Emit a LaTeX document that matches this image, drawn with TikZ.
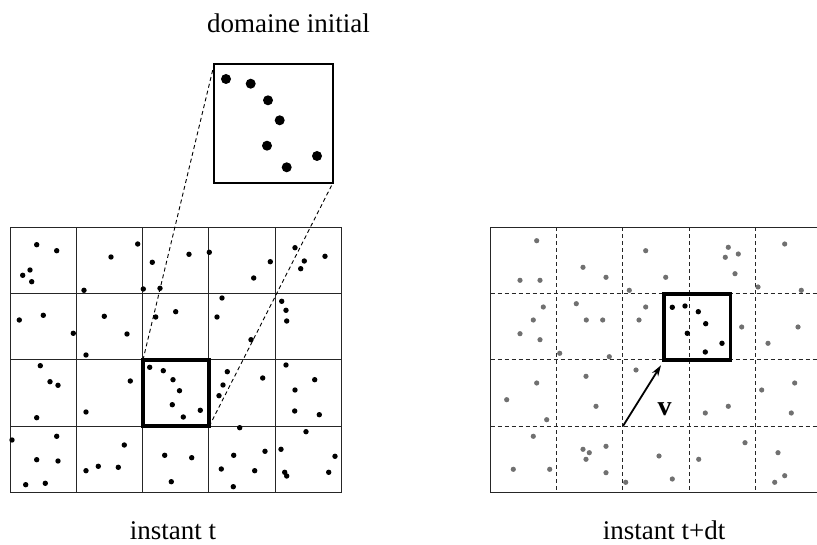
\documentclass[tikz,border=0pt]{standalone}
\usepackage{fontspec}
\setmainfont{Liberation Serif}
\usetikzlibrary{arrows.meta}
\definecolor{dotgray}{RGB}{112,112,112}
\tikzset{
  gridline/.style={line width=1pt, draw=black!85},
  dashgrid/.style={line width=1pt, draw=black!85, dash pattern=on 4pt off 3pt},
  thickbox/.style={draw, line width=3.8pt, minimum size=66.3pt, inner sep=0pt, outer sep=0pt},
  insetbox/.style={draw, line width=2pt, minimum size=118.7pt, inner sep=0pt, outer sep=0pt},
  zoomline/.style={line width=0.9pt, dash pattern=on 4pt off 3pt},
  caption/.style={font=\fontsize{27}{31}\selectfont, anchor=base, inner sep=0pt},
  blackdot/.style={fill=black},
  graydot/.style={fill=dotgray},
  vecarrow/.style={line width=1.8pt, -{Stealth[length=11pt,width=7pt]}, shorten >=6pt}
}
\begin{document}
\begin{tikzpicture}[x=1pt,y=-1pt]
\useasboundingbox (0,0) rectangle (817,545);
% ---------- left grid ----------
\draw[gridline] (10,227.3) rectangle (341.5,492.5);
\foreach \i in {1,2,3,4} \draw[gridline] ({10+66.3*\i},227.3) -- ({10+66.3*\i},492.5);
\foreach \j in {1,2,3} \draw[gridline] (10,{227.3+66.3*\j}) -- (341.5,{227.3+66.3*\j});
% left dots
\foreach \p in {(36.7,244.7),(56.7,250.7),(30,270),(22.7,275.3),(31.7,281.7),(111,257),(137.7,244),(84,290.3),(143.3,289),(152.3,262.3),(160,288.3),(19.3,320),(43.3,315.3),(73.3,333.3),(104.3,316.3),(127,334),(86,355),(155.7,317),(175.7,311.7),
(189,254.3),(209.3,252.3),(253.7,278),(270.3,261.7),(295,247.7),(304.3,261),(300.7,268.7),(325,256.3),(222,298),(217,317),(251,339.7),(281.7,301.3),(286,310.3),(286.7,321),
(40.3,365.7),(50,381.7),(58,385.3),(36.7,417.7),(130.3,381),(86,412),(12,440),(56.7,436.3),(36.7,459.7),(58,461),(25.7,484.7),(45.3,483.3),(124.3,445),(98.3,466.3),(86,470.7),(118.3,467.3),(164.7,455.3),(171.3,481.7),
(227.3,371.7),(223,385),(219,395.7),(262.7,378),(239.7,427.7),(286,365),(314.7,379.7),(295,390),(294.7,411),(319.3,414.7),(306,431.7),(191.7,457.7),(233.7,455.3),(265,451.3),(221.3,469),(254.7,470.7),(233.3,486.7),(281,449.3),(284.7,472.3),(286.7,476),(335,456.3),(328.7,472.3),
(149.7,367.3),(163.3,370.7),(173,379.7),(179.5,390.7),(172.3,404.7),(183.3,417),(200.3,410.3)}
  \fill[blackdot] \p circle (2.7);
% thick box
\node[thickbox] (box) at (176.1,393.1) {};
% inset
\node[insetbox] (inset) at (273.4,123.8) {};
\foreach \p in {(226,79),(250.7,83.7),(268,100.3),(279.7,120.3),(267,145.7),(286.7,167.3),(317,156)}
  \fill[blackdot] \p circle (5);
\draw[zoomline] (box.north west) -- (inset.north west);
\draw[zoomline] (box.south east) -- (inset.south east);
\node[caption] (title) at (288.4,33) {domaine initial};
\node[caption] (capL) at (173,539.5) {instant t};
% ---------- right grid ----------
\foreach \i in {1,2,3,4} \draw[dashgrid] ({490.5+66.2*\i},227.3) -- ({490.5+66.2*\i},492.5);
\foreach \j in {1,2,3} \draw[dashgrid] (490.5,{227.3+66.3*\j}) -- (821.5,{227.3+66.3*\j});
\draw[gridline] (490.5,227.3) rectangle (821.5,492.5);
\foreach \p in {(536.7,240.7),(520,280.3),(540,280.3),(583,267.3),(606,277.3),(645.7,250.7),(629.3,290.3),(543.3,307),(533.3,320),(520,333.7),(540,339.7),(576.3,303.7),(586.3,320),(602.7,320),(645.7,307),(639,320),(559.7,353.3),(609.3,356.7),
(665.7,277.3),(728.3,247.3),(738.3,254),(725.3,257.3),(735,273.7),(784.7,244),(758,287),(801.3,290.3),(741.7,327),(798,327),(768,343.3),
(636,370),(536.7,383),(506.7,399.7),(546.7,419.7),(586,376.3),(596,406.3),(533.3,436.3),(583,449.3),(589.3,452.7),(586,459.3),(606,446.3),(606,472.7),(513.3,469.3),(549.7,469.3),(625.7,482.3),
(761.7,390),(794.7,383),(791.3,413),(705.3,413),(728.3,406.3),(745,442.7),(659,456),(672.3,479),(698.7,459.3),(778,452.7),(784.7,475.7),(774.7,482.3)}
  \fill[graydot] \p circle (2.6);
\node[thickbox] (box2) at (697.3,327) {};
\foreach \p in {(672.3,307.3),(685,306),(698.3,311.7),(705.7,323.7),(687.3,333.3),(722,343.3),(705.3,352)}
  \fill[blackdot] \p circle (2.7);
\coordinate (orig) at (622.9,426.2);
\draw[vecarrow] (orig) -- (box2.south west);
\node[font=\fontsize{28}{31}\selectfont\bfseries, anchor=base, inner sep=0pt] (vlab) at (664.5,415.7) {v};
\node[caption] (capR) at (664,539.5) {instant t+dt};
\end{tikzpicture}
\end{document}
